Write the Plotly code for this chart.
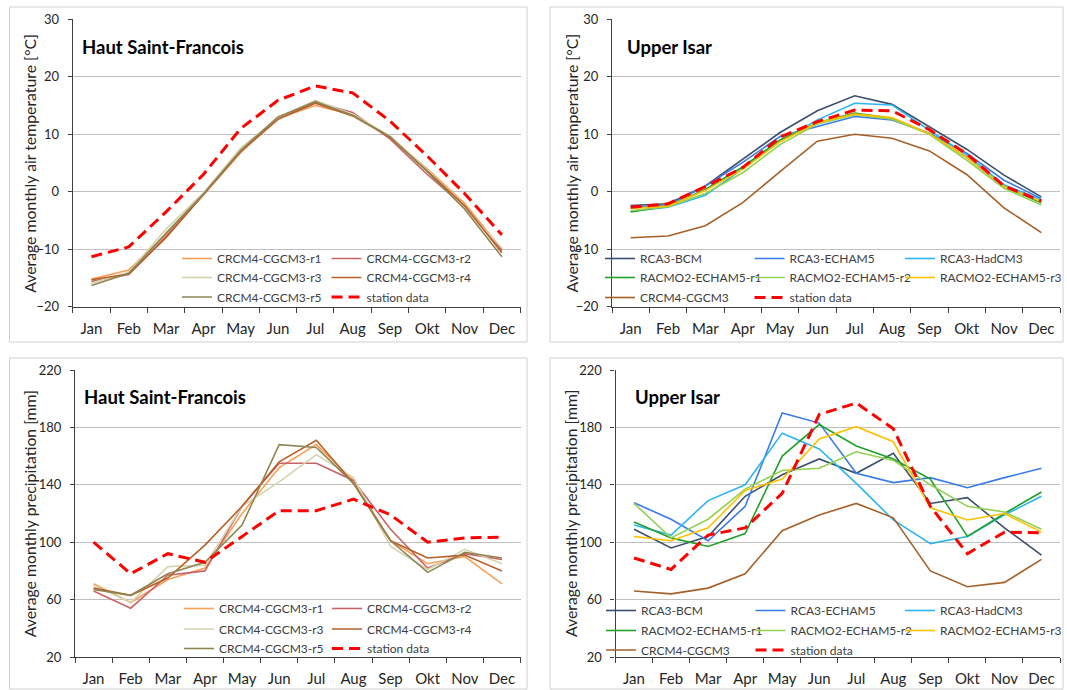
import plotly.graph_objects as go

W, H = 1067, 690
FONT = "Lato"

months = ["Jan", "Feb", "Mar", "Apr", "May", "Jun", "Jul", "Aug", "Sep", "Okt", "Nov", "Dec"]

# ---- Haut Saint-Francois: temperature [°C]
hsf_t_r1 = [-15.2, -13.6, -7.5, -0.5, 6.8, 12.8, 15.0, 13.4, 9.5, 4.0, -2.0, -10.0]
hsf_t_r2 = [-15.6, -14.4, -7.8, -0.5, 7.0, 12.7, 15.6, 13.8, 9.2, 3.0, -2.6, -10.2]
hsf_t_r3 = [-15.9, -14.0, -6.5, -0.2, 7.6, 12.9, 15.9, 13.5, 9.7, 3.8, -2.8, -9.8]
hsf_t_r4 = [-15.3, -14.3, -8.0, -0.5, 7.0, 12.6, 15.4, 13.2, 9.5, 3.6, -2.4, -10.6]
hsf_t_r5 = [-16.3, -14.2, -7.2, -0.4, 7.2, 13.0, 15.7, 13.3, 9.6, 3.5, -3.0, -11.3]
hsf_t_station = [-11.3, -9.6, -3.5, 3.0, 11.0, 15.9, 18.4, 17.2, 12.3, 6.2, -0.3, -7.5]

# ---- Upper Isar: temperature [°C]
ui_t_bcm = [-2.4, -2.1, 1.0, 5.7, 10.3, 14.1, 16.7, 15.2, 11.3, 7.4, 2.9, -0.9]
ui_t_echam5 = [-2.6, -2.4, 1.0, 5.1, 9.6, 11.3, 13.1, 12.5, 10.2, 6.7, 2.0, -1.2]
ui_t_hadcm3 = [-3.4, -2.7, -0.6, 4.0, 8.8, 12.5, 15.4, 15.1, 10.7, 6.4, 1.2, -1.4]
ui_t_racmo_r1 = [-3.5, -2.5, 0.4, 4.3, 9.0, 12.0, 13.7, 12.8, 10.1, 6.0, 0.9, -1.9]
ui_t_racmo_r2 = [-3.3, -2.6, -0.3, 3.3, 8.2, 11.8, 13.4, 12.6, 10.0, 5.5, 0.6, -2.3]
ui_t_racmo_r3 = [-2.9, -2.5, 0.2, 3.9, 8.7, 12.0, 13.5, 12.9, 10.1, 6.0, 0.9, -1.7]
ui_t_crcm4 = [-8.0, -7.7, -5.9, -1.9, 3.5, 8.8, 10.0, 9.3, 7.1, 3.0, -2.8, -7.1]
ui_t_station = [-2.7, -2.1, 0.9, 4.2, 9.5, 12.2, 14.2, 14.1, 10.8, 6.6, 1.0, -1.6]

# ---- Haut Saint-Francois: precipitation [mm]
hsf_p_r1 = [71, 58, 74, 82, 120, 152, 168, 143, 101, 85, 90, 71]
hsf_p_r2 = [66, 54, 77, 80, 125, 155, 155, 143, 109, 82, 92, 88]
hsf_p_r3 = [70, 58, 83, 84, 125, 142, 161, 145, 97, 81, 95, 85]
hsf_p_r4 = [68, 63, 75, 98, 125, 156, 171, 141, 101, 89, 91, 80]
hsf_p_r5 = [67, 63, 78, 86, 112, 168, 166, 141, 101, 79, 93, 89]
hsf_p_station = [100, 78, 92, 86, 104, 122, 122, 130, 119, 100, 103, 103.5]

# ---- Upper Isar: precipitation [mm]
ui_p_bcm = [109, 96, 104, 132, 147, 158, 148, 162, 127, 131, 110, 91]
ui_p_echam5 = [127.5, 116, 101, 125, 190, 183, 148, 141.5, 145, 138, 145, 151.5]
ui_p_hadcm3 = [112, 105, 129, 140, 176, 165, 141, 115.5, 99, 104, 119, 132]
ui_p_racmo_r1 = [114, 103, 97, 106, 160, 182, 167, 158, 144, 104, 120, 135]
ui_p_racmo_r2 = [127, 103, 116, 137, 150, 151.5, 163, 157, 140, 125, 121, 109]
ui_p_racmo_r3 = [104, 101, 110, 136, 144, 172, 180.5, 170, 124, 115.5, 120, 107]
ui_p_crcm4 = [66, 64, 68, 78, 108, 119, 127, 117, 80, 69, 72, 88]
ui_p_station = [89, 81, 105, 110, 134, 189, 197, 179, 125, 92, 107, 106.5]

hsf_names = ["CRCM4-CGCM3-r1", "CRCM4-CGCM3-r2", "CRCM4-CGCM3-r3",
             "CRCM4-CGCM3-r4", "CRCM4-CGCM3-r5", "station data"]
hsf_colors = ["#F9A057", "#C96468", "#D6D3AE", "#B8612A", "#8F8552", "#FF0000"]
ui_names = ["RCA3-BCM", "RCA3-ECHAM5", "RCA3-HadCM3", "RACMO2-ECHAM5-r1",
            "RACMO2-ECHAM5-r2", "RACMO2-ECHAM5-r3", "CRCM4-CGCM3", "station data"]
ui_colors = ["#3B4F6E", "#3A7BEA", "#2DB5F2", "#22A12A", "#92D050", "#FFC000", "#A5602A", "#FF0000"]

temp_title = "Average monthly air temperature [°C]"
prec_title = "Average monthly precipitation [mm]"

fig = go.Figure()


def px_x(x):
    return x / W


def px_y(y):
    return 1 - y / H


legend_counter = [0]
legends = {}


def new_legend(text_x, row_y):
    legend_counter[0] += 1
    n = legend_counter[0]
    key = "legend" if n == 1 else f"legend{n}"
    legends[key] = dict(
        x=px_x(text_x - 40), y=px_y(row_y), xanchor="left", yanchor="middle",
        orientation="h", bgcolor="rgba(0,0,0,0)", borderwidth=0,
        font=dict(family=FONT, size=12, color="#404040"),
        itemwidth=30,
    )
    return key


def add_panel(xa, ya, names, colors, series, cols_x, rows_y):
    ncols = len(cols_x)
    for i, (nm, col, vals) in enumerate(zip(names, colors, series)):
        is_station = nm == "station data"
        lg = new_legend(cols_x[i % ncols], rows_y[i // ncols])
        fig.add_trace(go.Scatter(
            x=months, y=vals, mode="lines", name=nm,
            line=dict(color=col, width=3 if is_station else 1.6,
                      dash="11px,6px" if is_station else "solid"),
            xaxis=xa, yaxis=ya, legend=lg, showlegend=True,
            hoverinfo="skip",
        ))


add_panel("x", "y", hsf_names, hsf_colors,
          [hsf_t_r1, hsf_t_r2, hsf_t_r3, hsf_t_r4, hsf_t_r5, hsf_t_station],
          [217, 366.5], [258.5, 277.5, 297])
add_panel("x2", "y2", ui_names, ui_colors,
          [ui_t_bcm, ui_t_echam5, ui_t_hadcm3, ui_t_racmo_r1, ui_t_racmo_r2,
           ui_t_racmo_r3, ui_t_crcm4, ui_t_station],
          [640, 789.5, 940], [258.5, 277.5, 297.5])
add_panel("x3", "y3", hsf_names, hsf_colors,
          [hsf_p_r1, hsf_p_r2, hsf_p_r3, hsf_p_r4, hsf_p_r5, hsf_p_station],
          [219, 367], [608.5, 629, 648.5])
add_panel("x4", "y4", ui_names, ui_colors,
          [ui_p_bcm, ui_p_echam5, ui_p_hadcm3, ui_p_racmo_r1, ui_p_racmo_r2,
           ui_p_racmo_r3, ui_p_crcm4, ui_p_station],
          [641, 790.5, 940], [610.5, 630.5, 650])

xcommon = dict(type="category", categoryorder="array", categoryarray=months,
               range=[-0.5, 11.5], tickson="boundaries", ticks="outside", ticklen=5,
               tickcolor="#404040", showline=True, linecolor="#404040", linewidth=1.2,
               showgrid=False, zeroline=False, fixedrange=True, automargin=False,
               tickangle=0, ticklabelstandoff=8,
               tickfont=dict(family=FONT, size=15, color="#262626"))
ycommon = dict(ticks="outside", ticklen=4, tickcolor="#404040", showline=True,
               linecolor="#404040", linewidth=1.2, showgrid=True, gridcolor="#BFBFBF",
               gridwidth=1, zeroline=False, fixedrange=True, automargin=False,
               ticklabelstandoff=6,
               tickfont=dict(family=FONT, size=13, color="#262626"))

top_dom = [px_y(306.7), px_y(19.3)]
bot_dom = [px_y(657), px_y(370)]

layout = dict(
    width=W, height=H, margin=dict(l=0, r=0, t=0, b=0, autoexpand=False),
    paper_bgcolor="white", plot_bgcolor="rgba(0,0,0,0)",
    font=dict(family=FONT, color="#262626"),
    xaxis=dict(domain=[px_x(72.8), px_x(520.5)], anchor="y", **xcommon),
    xaxis2=dict(domain=[px_x(612), px_x(1060)], anchor="y2", **xcommon),
    xaxis3=dict(domain=[px_x(75), px_x(520.5)], anchor="y3", **xcommon),
    xaxis4=dict(domain=[px_x(615.5), px_x(1060)], anchor="y4", **xcommon),
    yaxis=dict(domain=top_dom, anchor="x", range=[-20, 30], dtick=10, tick0=0, **ycommon),
    yaxis2=dict(domain=top_dom, anchor="x2", range=[-20, 30], dtick=10, tick0=0, **ycommon),
    yaxis3=dict(domain=bot_dom, anchor="x3", range=[20, 220], dtick=40, tick0=20, **ycommon),
    yaxis4=dict(domain=bot_dom, anchor="x4", range=[20, 220], dtick=40, tick0=20, **ycommon),
)
layout.update(legends)
fig.update_layout(**layout)

# panel frames
for (x0, y0, x1, y1) in [(9.5, 7, 527, 342), (550, 7, 1063, 342),
                         (9.5, 358, 527, 689), (550, 358, 1063, 689)]:
    fig.add_shape(type="rect", xref="paper", yref="paper",
                  x0=px_x(x0), x1=px_x(x1), y0=px_y(y1), y1=px_y(y0),
                  line=dict(color="#D0D0D0", width=1), layer="below")

# panel titles
for (txt, x, y) in [("Haut Saint-Francois", 80, 46.7), ("Upper Isar", 624.6, 46.7),
                    ("Haut Saint-Francois", 81.7, 397.3), ("Upper Isar", 633, 396.7)]:
    fig.add_annotation(text=f"<b>{txt}</b>", xref="paper", yref="paper",
                       x=px_x(x), y=px_y(y), xanchor="left", yanchor="middle",
                       showarrow=False, font=dict(family=FONT, size=18.5, color="#000000"))

# y-axis titles (rotated text)
for (txt, x, y) in [(temp_title, 28.8, 163), (temp_title, 570.5, 163),
                    (prec_title, 29.8, 513.5), (prec_title, 570.5, 513.5)]:
    fig.add_annotation(text=txt, xref="paper", yref="paper", textangle=-90,
                       x=px_x(x), y=px_y(y), xanchor="center", yanchor="middle",
                       showarrow=False, font=dict(family=FONT, size=15.8, color="#262626"))

fig.write_html("out.html", config={"displayModeBar": False},
               post_script="document.body.style.margin='0';document.body.style.overflow='hidden';")
